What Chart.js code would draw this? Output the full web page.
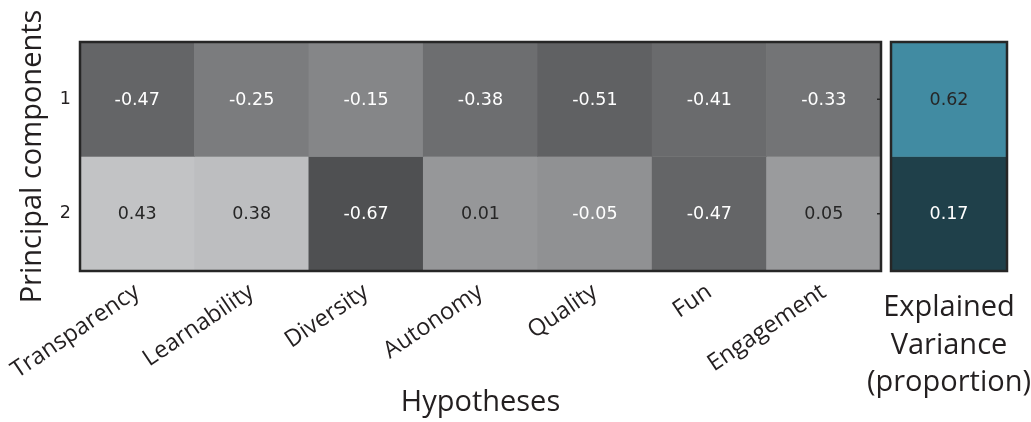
<!DOCTYPE html>
<html>
<head>
<meta charset="utf-8">
<script src="https://cdn.jsdelivr.net/npm/chart.js@4.4.0/dist/chart.umd.min.js"></script>
<style>
  html, body { margin: 0; padding: 0; background: #ffffff; }
  #wrap { position: relative; width: 1031px; height: 422px; overflow: hidden; }
  #loadings { position: absolute; left: 0; top: 0; }
  #variance { position: absolute; left: 860px; top: 0; }
</style>
</head>
<body>
<div id="wrap">
  <canvas id="loadings" width="886" height="422"></canvas>
  <canvas id="variance" width="171" height="422"></canvas>
</div>
<script>
// PCA loadings of each hypothesis on the first two principal components
const hypotheses = ['Transparency', 'Learnability', 'Diversity', 'Autonomy', 'Quality', 'Fun', 'Engagement'];
const components = ['1', '2'];
const pc1Loadings = [-0.47, -0.25, -0.15, -0.38, -0.51, -0.41, -0.33];
const pc2Loadings = [0.43, 0.38, -0.67, 0.01, -0.05, -0.47, 0.05];
const explainedVariance = [0.62, 0.17];
const varianceTitle = ['Explained', 'Variance', '(proportion)'];

const loadingRows = [pc1Loadings, pc2Loadings];
const INK = '#231f20';
const SANS = '"Open Sans", "Noto Sans", sans-serif';
const TITLE_FONT = { family: SANS, size: 29, lineHeight: 1.2 };
const NUM_FONT = '17.5px "DejaVu Sans", sans-serif';

// grey colormap, linear in the loading value
function greyFor(v) {
  const g = Math.round(149 + 104.5 * v);
  return `rgb(${g},${g + 1},${g + 3})`;
}
// teal colormap for the variance proportions
function tealFor(v) {
  const lo = [31, 64, 74], hi = [65, 139, 162];
  const t = Math.min(1, Math.max(0, (v - 0.17) / 0.45));
  const c = lo.map((a, i) => Math.round(a + (hi[i] - a) * t));
  return `rgb(${c[0]},${c[1]},${c[2]})`;
}

// writes each cell's value in its centre and frames the plot area
const cellText = {
  id: 'cellText',
  afterDatasetsDraw(chart, args, opts) {
    const { ctx, chartArea: a } = chart;
    ctx.save();
    ctx.font = NUM_FONT;
    ctx.textAlign = 'center';
    ctx.textBaseline = 'middle';
    chart.data.datasets.forEach((ds, di) => {
      chart.getDatasetMeta(di).data.forEach((bar, i) => {
        const v = ds.values[i];
        const p = bar.getProps(['x', 'y', 'base'], true);
        ctx.fillStyle = opts.textColor(v);
        ctx.fillText(v.toFixed(2), p.x, (p.y + p.base) / 2 + 1);
      });
    });
    if (opts.rightTicks) {
      const ys = chart.scales.y;
      ctx.strokeStyle = '#262626';
      ctx.lineWidth = 1.5;
      ys.ticks.forEach(t => {
        const y = ys.getPixelForValue(t.value);
        ctx.beginPath();
        ctx.moveTo(a.right - 4, y);
        ctx.lineTo(a.right, y);
        ctx.stroke();
      });
    }
    ctx.strokeStyle = '#262626';
    ctx.lineWidth = 2.5;
    ctx.strokeRect(a.left, a.top, a.right - a.left, a.bottom - a.top);
    ctx.restore();
  }
};

// multi-line caption under a narrow panel, centred on its plot area
const caption = {
  id: 'caption',
  afterDraw(chart, args, opts) {
    if (!opts.lines) return;
    const { ctx, chartArea: a } = chart;
    ctx.save();
    ctx.font = `${opts.size}px ${SANS}`;
    ctx.fillStyle = INK;
    ctx.textAlign = 'center';
    ctx.textBaseline = 'alphabetic';
    const cx = (a.left + a.right) / 2;
    opts.lines.forEach((line, i) => {
      ctx.fillText(line, cx, opts.firstBaseline + i * opts.spacing);
    });
    ctx.restore();
  }
};

function rowDatasets(rows, colorFn, n) {
  return rows.map((vals, r) => ({
    label: components[r],
    data: Array.from({ length: n }, () => [r + 0.5, r + 1.5]),
    values: vals,
    backgroundColor: vals.map(colorFn),
    borderWidth: 0,
    grouped: false,
    barPercentage: 1,
    categoryPercentage: 1
  }));
}

const rowAxis = (display) => ({
  type: 'linear',
  display,
  min: 0.5,
  max: 2.5,
  reverse: true,
  afterBuildTicks: s => { s.ticks = components.map((c, i) => ({ value: i + 1 })); },
  grid: { display: false, drawTicks: false },
  border: { display: false },
  ticks: {
    callback: v => components[v - 1],
    font: { family: '"DejaVu Sans", sans-serif', size: 17.5 },
    color: INK,
    padding: 9
  },
  title: {
    display: display,
    text: 'Principal components',
    font: TITLE_FONT,
    color: INK,
    padding: { top: 15, bottom: 0 }
  },
  afterFit: s => { if (display) s.width = 80; }
});

new Chart(document.getElementById('loadings'), {
  type: 'bar',
  data: { labels: hypotheses, datasets: rowDatasets(loadingRows, greyFor, hypotheses.length) },
  options: {
    responsive: false,
    animation: false,
    layout: { padding: { left: 0, right: 5, top: 42, bottom: 0 } },
    plugins: {
      legend: { display: false },
      tooltip: { enabled: false },
      cellText: { textColor: v => (v > 0 ? '#262626' : '#ffffff'), rightTicks: true },
      caption: { lines: null }
    },
    scales: {
      x: {
        type: 'category',
        offset: true,
        grid: { display: false, drawTicks: false },
        border: { display: false },
        ticks: {
          autoSkip: false,
          minRotation: 34,
          maxRotation: 34,
          padding: 7,
          color: INK,
          font: { family: SANS, size: 23.5 }
        },
        title: {
          display: true,
          text: 'Hypotheses',
          font: TITLE_FONT,
          color: INK,
          padding: { top: 0, bottom: 2 }
        },
        afterFit: s => { s.height = 151; }
      },
      y: rowAxis(true)
    }
  },
  plugins: [cellText, caption]
});

new Chart(document.getElementById('variance'), {
  type: 'bar',
  data: {
    labels: ['Explained Variance'],
    datasets: rowDatasets(explainedVariance.map(v => [v]), tealFor, 1)
  },
  options: {
    responsive: false,
    animation: false,
    layout: { padding: { left: 31, right: 24, top: 42, bottom: 0 } },
    plugins: {
      legend: { display: false },
      tooltip: { enabled: false },
      cellText: { textColor: v => (v > 0.5 ? '#262626' : '#ffffff'), rightTicks: false },
      caption: { lines: varianceTitle, size: 29, firstBaseline: 316, spacing: 37.5 }
    },
    scales: {
      x: {
        type: 'category',
        offset: true,
        grid: { display: false, drawTicks: false },
        border: { display: false },
        ticks: { display: false },
        title: { display: false },
        afterFit: s => { s.height = 151; }
      },
      y: rowAxis(false)
    }
  },
  plugins: [cellText, caption]
});
</script>
</body>
</html>
